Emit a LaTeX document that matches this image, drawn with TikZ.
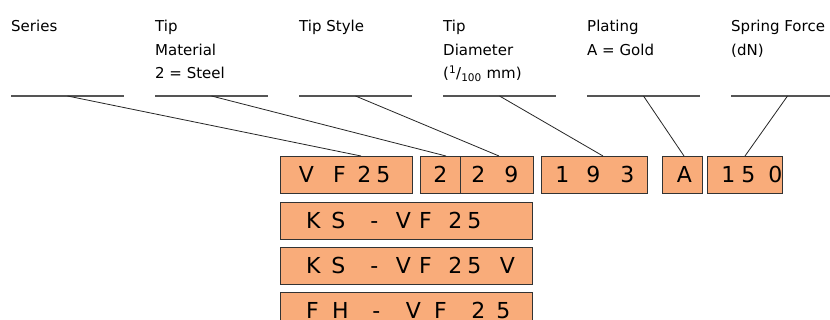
\documentclass[tikz,border=0pt]{standalone}
\usepackage{fontspec}
\setmainfont{DejaVu Sans}
\usepackage{tikz}
\definecolor{salmon}{RGB}{249,172,122}
\definecolor{rulegray}{RGB}{85,85,85}
% put one glyph centred at a given offset from the box's left edge
\newcommand\slot[2]{\rlap{\hspace*{#1pt}\makebox[0pt]{#2}}}

\tikzset{
  code/.style={draw=black!80, fill=salmon, line width=0.9pt, inner sep=0pt,
    minimum height=37pt, text height=16pt, text depth=0pt, anchor=north west,
    font=\fontsize{22}{22}\selectfont},
  head/.style={anchor=base west, inner sep=0pt, align=left,
    font=\fontsize{15}{23.4}\selectfont},
  underline/.style={draw=rulegray, line width=1.2pt},
  lead/.style={draw=black!85, line width=0.8pt}
}

\begin{document}
\begin{tikzpicture}[x=1pt, y=-1pt]
    \clip (0,0) rectangle (830,320);
    \fill[white] (0,0) rectangle (830,320);

    % headings (anchored on the baseline of their last line)
    \node[head] (hser)   at (11,32)    {Series};
    \node[head] (hmat)   at (155,78.8) {Tip\\Material\\2 = Steel};
    \node[head] (hsty)   at (299,32)   {Tip Style};
    \node[head] (hdia)   at (443,78.8) {Tip\\Diameter\\(\textsuperscript{1}/\textsubscript{100} mm)};
    \node[head] (hplat)  at (587,55.4) {Plating\\A = Gold};
    \node[head] (hforce) at (731,55.4) {Spring Force\\(dN)};

    % underlines, knee in the middle
    \foreach \k/\x in {ser/11, mat/155, sty/299, dia/443, plat/587, force/731}
        \coordinate (\k-k) at (\x+56.5,96);
    \foreach \k in {ser, mat, sty, dia, plat, force}
        \draw[underline] (\k-k) ++(-56.5,0) -- ++(113,0);

    % code boxes
    \node[code, minimum width=132pt] (vf) at (280,156)
        {\makebox[132pt][l]{\slot{26}{V}\slot{59}{F}\slot{84}{2}\slot{103}{5}}};
    \node[code, minimum width=40pt] (mat) at (420,156)
        {\makebox[40pt][l]{\slot{20}{2}}};
    \node[code, minimum width=73pt] (sty) at (460,156)
        {\makebox[73pt][l]{\slot{18}{2}\slot{51}{9}}};
    \node[code, minimum width=106pt] (dia) at (541,156)
        {\makebox[106pt][l]{\slot{21}{1}\slot{52}{9}\slot{86}{3}}};
    \node[code, minimum width=40pt] (plat) at (662,156)
        {\makebox[40pt][l]{\slot{22}{A}}};
    \node[code, minimum width=75pt] (force) at (707,156)
        {\makebox[75pt][l]{\slot{21}{1}\slot{41}{5}\slot{68}{0}}};

    \node[code, minimum width=252pt] (ks) at (280,202)
        {\makebox[252pt][l]{\slot{33}{K}\slot{58}{S}\slot{94}{-}\slot{123}{V}\slot{145}{F}\slot{175}{2}\slot{194}{5}}};
    \node[code, minimum width=252pt] (ksv) at (280,247)
        {\makebox[252pt][l]{\slot{33}{K}\slot{58}{S}\slot{94}{-}\slot{123}{V}\slot{145}{F}\slot{175}{2}\slot{194}{5}\slot{227}{V}}};
    \node[code, minimum width=252pt] (fh) at (280,292)
        {\makebox[252pt][l]{\slot{32}{F}\slot{60}{H}\slot{96}{-}\slot{133}{V}\slot{160}{F}\slot{198}{2}\slot{223}{5}}};

    % leaders from the headings down to the boxes
    \draw[lead] (ser-k)   -- ([xshift=81pt]vf.north west);
    \draw[lead] (mat-k)   -- ([xshift=26pt]mat.north west);
    \draw[lead] (sty-k)   -- ([xshift=39pt]sty.north west);
    \draw[lead] (dia-k)   -- ([xshift=62pt]dia.north west);
    \draw[lead] (plat-k)  -- ([xshift=22pt]plat.north west);
    \draw[lead] (force-k) -- ([xshift=38pt]force.north west);

\end{tikzpicture}
\end{document}
